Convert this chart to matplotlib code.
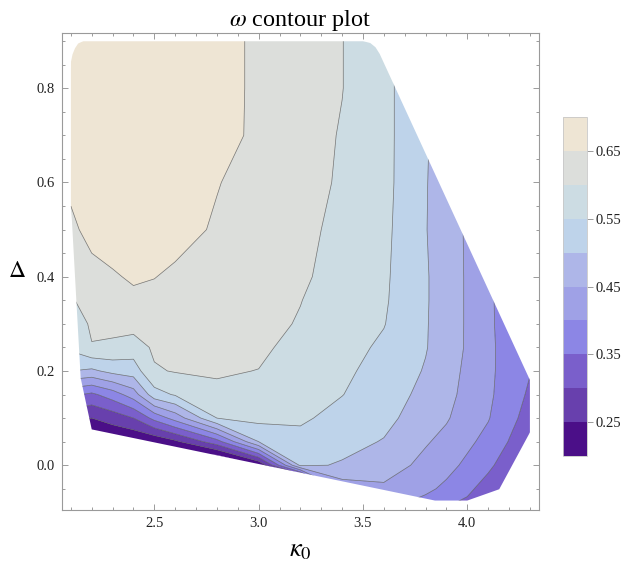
import numpy as np
import matplotlib.pyplot as plt
from matplotlib.colors import ListedColormap, BoundaryNorm
from matplotlib.cm import ScalarMappable
from matplotlib.patches import Polygon
from matplotlib.ticker import MultipleLocator, FormatStrFormatter

plt.rcParams['font.family'] = ['Liberation Serif', 'DejaVu Serif']
plt.rcParams['mathtext.fontset'] = 'stix'

kappa = [2.1, 2.2, 2.3, 2.4, 2.5, 2.6, 2.8, 3.0, 3.2, 3.4, 3.6, 3.8, 3.9, 4.0, 4.1, 4.2, 4.3]
delta = [-0.1, -0.05, 0.0, 0.05, 0.1, 0.15, 0.2, 0.25, 0.3, 0.35, 0.4, 0.5, 0.6, 0.7, 0.8, 0.9]

# one list per kappa column, bottom (delta=-0.1) to top (delta=0.9)
omega_cols = [
    [0.20, 0.20, 0.20, 0.20, 0.26, 0.36, 0.50, 0.56, 0.575, 0.595, 0.61, 0.64, 0.66, 0.665, 0.67, 0.66],
    [0.10, 0.10, 0.10, 0.17, 0.25, 0.34, 0.49, 0.598, 0.606, 0.62, 0.635, 0.665, 0.675, 0.68, 0.68, 0.68],
    [0.10, 0.10, 0.12, 0.20, 0.27, 0.375, 0.515, 0.59, 0.615, 0.63, 0.645, 0.675, 0.685, 0.69, 0.69, 0.69],
    [0.10, 0.10, 0.14, 0.20, 0.30, 0.425, 0.525, 0.575, 0.62, 0.64, 0.656, 0.675, 0.685, 0.69, 0.69, 0.69],
    [0.10, 0.10, 0.16, 0.21, 0.365, 0.53, 0.595, 0.608, 0.625, 0.64, 0.651, 0.672, 0.68, 0.688, 0.69, 0.69],
    [0.10, 0.10, 0.15, 0.24, 0.42, 0.555, 0.603, 0.612, 0.625, 0.635, 0.643, 0.665, 0.675, 0.682, 0.685, 0.685],
    [0.10, 0.10, 0.10, 0.33, 0.55, 0.59, 0.605, 0.612, 0.622, 0.628, 0.635, 0.645, 0.652, 0.668, 0.67, 0.67],
    [0.10, 0.10, 0.20, 0.50, 0.565, 0.585, 0.599, 0.61, 0.612, 0.617, 0.622, 0.628, 0.633, 0.64, 0.64, 0.64],
    [-0.05, -0.05, 0.51, 0.538, 0.556, 0.563, 0.572, 0.583, 0.597, 0.601, 0.606, 0.608, 0.615, 0.618, 0.62, 0.62],
    [0.30, 0.42, 0.495, 0.517, 0.537, 0.551, 0.558, 0.567, 0.575, 0.58, 0.585, 0.592, 0.595, 0.597, 0.601, 0.601],
    [0.40, 0.44, 0.477, 0.497, 0.515, 0.527, 0.535, 0.542, 0.552, 0.556, 0.558, 0.562, 0.565, 0.565, 0.565, 0.565],
    [0.37, 0.41, 0.435, 0.455, 0.472, 0.485, 0.496, 0.503, 0.504, 0.505, 0.505, 0.502, 0.503, 0.505, 0.505, 0.505],
    [0.34, 0.39, 0.415, 0.435, 0.455, 0.465, 0.47, 0.473, 0.474, 0.474, 0.474, 0.474, 0.474, 0.475, 0.475, 0.475],
    [0.33, 0.36, 0.39, 0.41, 0.425, 0.435, 0.44, 0.445, 0.445, 0.445, 0.445, 0.444, 0.444, 0.445, 0.445, 0.445],
    [0.30, 0.33, 0.36, 0.385, 0.403, 0.41, 0.412, 0.412, 0.41, 0.41, 0.41, 0.41, 0.41, 0.41, 0.41, 0.41],
    [0.28, 0.30, 0.325, 0.348, 0.365, 0.373, 0.377, 0.378, 0.377, 0.375, 0.375, 0.375, 0.375, 0.375, 0.375, 0.375],
    [0.26, 0.28, 0.30, 0.315, 0.33, 0.343, 0.352, 0.35, 0.345, 0.345, 0.345, 0.345, 0.345, 0.345, 0.345, 0.345],
]

# outline of the sampled region
edge_kappa = [2.097, 2.097, 2.100, 2.108, 2.120, 2.135, 2.160, 3.500, 3.535, 3.560, 3.580,
              4.303, 4.303, 4.153, 4.000, 3.845, 2.200, 2.147, 2.120, 2.105]
edge_delta = [0.560, 0.835, 0.855, 0.872, 0.885, 0.895, 0.900, 0.900, 0.896, 0.887, 0.873,
              0.178, 0.072, -0.051, -0.075, -0.075, 0.076, 0.185, 0.400, 0.520]

levels = [0.20, 0.25, 0.30, 0.35, 0.40, 0.45, 0.50, 0.55, 0.60, 0.65, 0.70]
band_colors = ['#4b0f88', '#6840ad', '#7a5fcb', '#8c86e5', '#9fa1e6',
               '#aeb6e8', '#bed3ea', '#ccdce3', '#dcdedb', '#eee5d4']
cbar_ticks = [0.25, 0.35, 0.45, 0.55, 0.65]

omega = np.array(omega_cols).T

fig = plt.figure(figsize=(6.32, 5.73), dpi=100)
ax = fig.add_axes([0.0976, 0.110, 0.7557, 0.833])

region = Polygon(np.column_stack([edge_kappa, edge_delta]), closed=True,
                 transform=ax.transData, facecolor='none', edgecolor='none')

cf = ax.contourf(kappa, delta, omega, levels=levels,
                 colors=[band_colors[0]] + band_colors + [band_colors[-1]],
                 extend='both', antialiased=True)
cf.set_clip_path(region)
cl = ax.contour(kappa, delta, omega, levels=levels[1:-1], colors='#4a4a4a',
                linewidths=0.5, alpha=0.75)
cl.set_clip_path(region)

ax.set_xlim(2.056, 4.345)
ax.set_ylim(-0.095, 0.918)
ax.xaxis.set_major_locator(MultipleLocator(0.5))
ax.xaxis.set_minor_locator(MultipleLocator(0.1))
ax.yaxis.set_major_locator(MultipleLocator(0.2))
ax.yaxis.set_minor_locator(MultipleLocator(0.05))
ax.xaxis.set_major_formatter(FormatStrFormatter('%.1f'))
ax.yaxis.set_major_formatter(FormatStrFormatter('%.1f'))
ax.tick_params(which='both', direction='in', top=True, right=True,
               color='#8c8c8c', width=0.6, labelsize=10.5, labelcolor='#222222')
ax.tick_params(which='major', length=4.5, pad=5)
ax.tick_params(which='minor', length=2.5)
for sp in ax.spines.values():
    sp.set_color('#9a9a9a')
    sp.set_linewidth(0.8)

ax.set_title(r'$\omega$ contour plot', fontsize=17.5, pad=4)
ax.set_xlabel(r'$\kappa_0$', fontsize=19, va='center')
ax.xaxis.set_label_coords(0.5, -0.085)
ax.set_ylabel(r'$\Delta$', fontsize=17, rotation=0, va='center', ha='center')
ax.yaxis.set_label_coords(-0.094, 0.5)

cax = fig.add_axes([0.8913, 0.2047, 0.037, 0.5906])
sm = ScalarMappable(norm=BoundaryNorm(levels, len(band_colors)),
                    cmap=ListedColormap(band_colors))
cb = fig.colorbar(sm, cax=cax, ticks=cbar_ticks)
cb.minorticks_off()
cb.outline.set_edgecolor('#c8c8c8')
cb.outline.set_linewidth(0.6)
cax.tick_params(direction='out', length=4, width=0.6, color='#8c8c8c',
                labelsize=10.5, labelcolor='#222222', pad=2)
cax.yaxis.set_major_formatter(FormatStrFormatter('%.2f'))

fig.savefig('out.png', dpi=100)
